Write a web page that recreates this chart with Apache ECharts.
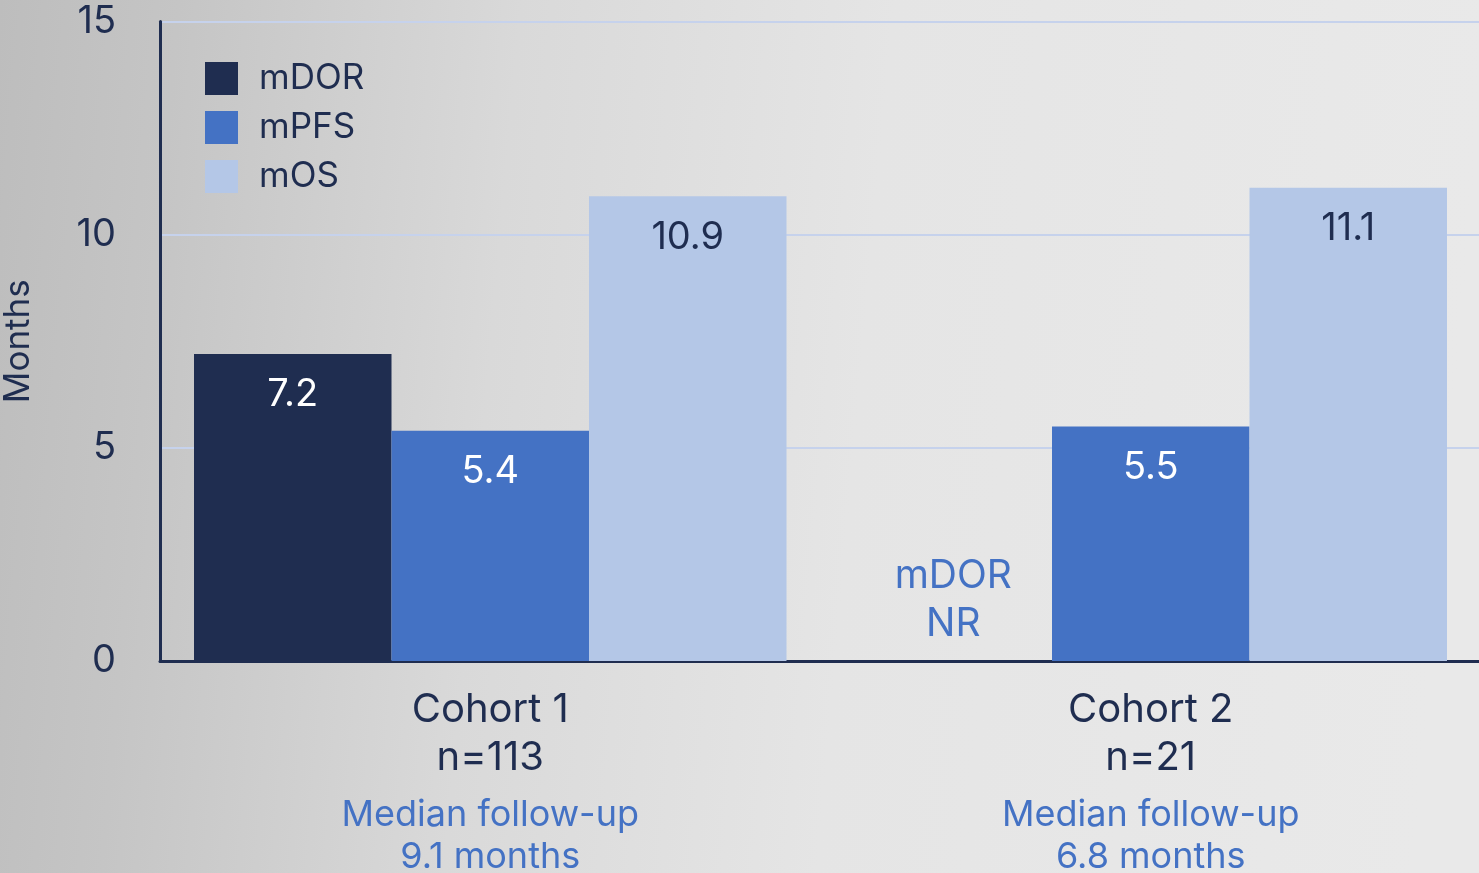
<!DOCTYPE html>
<html>
<head>
<meta charset="utf-8">
<title>Median DOR, PFS and OS by cohort</title>
<script src="https://cdn.jsdelivr.net/npm/echarts@6/dist/echarts.min.js"></script>
<style>
  html, body { margin: 0; padding: 0; width: 100%; height: 100%; overflow: hidden; }
  #chart { width: 1479px; height: 873px; }
</style>
</head>
<body>
<div id="chart"></div>
<script>
// Cohorts and their annotation lines
const cohorts = ['Cohort 1', 'Cohort 2'];
const cohortSizes = ['n=113', 'n=21'];
const followUp = ['9.1 months', '6.8 months'];

// Median values in months (null = not reached)
const seriesNames = ['mDOR', 'mPFS', 'mOS'];
const mDOR = [7.2, null];
const mPFS = [5.4, 5.5];
const mOS = [10.9, 11.1];

// Y axis ticks
const yTicks = [0, 5, 10, 15];

const NAVY = '#1f2d50';
const BLUE = '#4472c4';
const LIGHT = '#b4c7e7';
const FONT = 'Inter, "Open Sans", sans-serif';

const chart = echarts.init(document.getElementById('chart'), null, { renderer: 'canvas' });

const valueLabel = (color) => ({
  show: true,
  position: 'insideTop',
  distance: 22,
  color: color,
  fontSize: 38,
  fontFamily: FONT,
  formatter: (p) => String(p.value)
});

// Bars that were not reached carry a note instead of a value
const mdorData = mDOR.map((v) => v === null
  ? {
      value: 0,
      label: {
        show: true,
        position: 'top',
        distance: 13,
        color: BLUE,
        fontSize: 39,
        lineHeight: 48,
        fontFamily: FONT,
        align: 'center',
        formatter: 'mDOR\nNR'
      }
    }
  : v);

const option = {
  backgroundColor: {
    type: 'linear', x: 0, y: 0, x2: 1, y2: 0.15,
    colorStops: [
      { offset: 0, color: '#bdbdbd' },
      { offset: 0.12, color: '#c5c5c5' },
      { offset: 0.35, color: '#d9d9d9' },
      { offset: 0.6, color: '#e5e5e5' },
      { offset: 1, color: '#e9e9e9' }
    ]
  },
  textStyle: { fontFamily: FONT },
  animation: false,
  grid: { left: 160, right: -2, top: 21.5, bottom: 212, containLabel: false, outerBoundsMode: 'none' },
  legend: {
    orient: 'vertical',
    left: 205,
    top: 61,
    padding: 0,
    itemWidth: 33,
    itemHeight: 33,
    itemGap: 14,
    icon: 'rect',
    data: seriesNames,
    textStyle: { color: NAVY, fontSize: 35, lineHeight: 33, fontFamily: FONT, padding: [0, 0, 0, 16] }
  },
  xAxis: {
    type: 'category',
    data: cohorts,
    axisLine: { show: true, lineStyle: { color: NAVY, width: 3 } },
    axisTick: { show: false },
    splitLine: { show: false },
    axisLabel: {
      margin: 25,
      interval: 0,
      formatter: (val, idx) =>
        '{a|' + val + '}\n{a|' + cohortSizes[idx] + '}\n{c|Median follow-up}\n{d|' + followUp[idx] + '}',
      rich: {
        a: { fontSize: 40, color: NAVY, lineHeight: 48, fontFamily: FONT },
        c: { fontSize: 36, color: BLUE, lineHeight: 66, fontFamily: FONT },
        d: { fontSize: 36, color: BLUE, lineHeight: 18, fontFamily: FONT }
      }
    }
  },
  yAxis: {
    type: 'value',
    min: yTicks[0],
    max: yTicks[yTicks.length - 1],
    interval: 5,
    name: 'Months',
    nameLocation: 'middle',
    nameGap: 124,
    nameTextStyle: { color: NAVY, fontSize: 35, fontFamily: FONT },
    axisLine: { show: true, lineStyle: { color: NAVY, width: 3 } },
    axisTick: { show: false },
    axisLabel: { color: NAVY, fontSize: 38, margin: 44, fontFamily: FONT },
    splitLine: { show: true, lineStyle: { color: '#c6d2ec', width: 2 } }
  },
  series: [
    {
      name: 'mDOR', type: 'bar', data: mdorData,
      barWidth: 197.5, barGap: '0%',
      itemStyle: { color: NAVY },
      label: valueLabel('#ffffff'),
      z: 3
    },
    {
      name: 'mPFS', type: 'bar', data: mPFS,
      barWidth: 197.5, barGap: '0%',
      itemStyle: { color: BLUE },
      label: valueLabel('#ffffff'),
      z: 3
    },
    {
      name: 'mOS', type: 'bar', data: mOS,
      barWidth: 197.5, barGap: '0%',
      itemStyle: { color: LIGHT },
      label: valueLabel(NAVY),
      z: 3
    }
  ]
};

chart.setOption(option);
</script>
</body>
</html>
